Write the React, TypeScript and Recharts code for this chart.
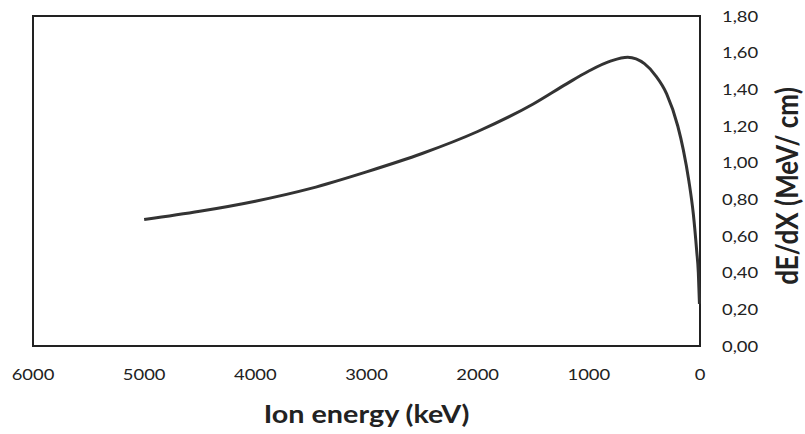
import { LineChart, Line, XAxis, YAxis, ReferenceArea, Label } from 'recharts'

// ion energy (keV) and stopping power dE/dX (MeV/cm)
const energy = [5000, 4500, 4000, 3500, 3000, 2500, 2000, 1500, 1200, 1000, 800, 650, 500, 400, 300, 200, 150, 100, 60, 30, 15, 5]
const dEdx = [0.69, 0.735, 0.79, 0.86, 0.95, 1.05, 1.17, 1.32, 1.43, 1.5, 1.555, 1.575, 1.54, 1.475, 1.375, 1.2, 1.07, 0.9, 0.72, 0.52, 0.4, 0.23]

const xTicks = [0, 1000, 2000, 3000, 4000, 5000, 6000]
const yTicks = [0, 0.2, 0.4, 0.6, 0.8, 1.0, 1.2, 1.4, 1.6, 1.8]

const xTitle = 'Ion energy (keV)'
const yTitle = 'dE/dX (MeV/ cm)'

const data = energy.map((e, i) => ({ energy: e, dEdx: dEdx[i] }))

const font = 'Lato, Carlito, Calibri, sans-serif'
const ink = '#222'
// the source image is a bit stretched sideways, so text gets a small x scale
const stretch = 1.15

const XTick = ({ x, y, payload }: any) => (
  <g transform={`translate(${x},${y}) scale(${stretch},1)`}>
    <text x={0} y={0} dy="0.71em" textAnchor="middle" style={{ fontSize: 16, fill: ink, fontFamily: font }}>
      {payload.value}
    </text>
  </g>
)

const YTick = ({ x, y, payload }: any) => (
  <g transform={`translate(${x},${y}) scale(${stretch},1)`}>
    <text x={0} y={0} dy="0.355em" textAnchor="start" style={{ fontSize: 16, fill: ink, fontFamily: font }}>
      {payload.value.toFixed(2).replace('.', ',')}
    </text>
  </g>
)

export default function App() {
  return (
    <div style={{ position: 'absolute', left: 0, top: 0, background: '#fff' }}>
      <LineChart width={805} height={434} data={data} margin={{ top: 16, right: 0, bottom: 0, left: 33 }}>
        <XAxis
          type="number"
          dataKey="energy"
          domain={[0, 6000]}
          ticks={xTicks}
          reversed
          height={88}
          axisLine={false}
          tickLine={false}
          tickSize={0}
          tickMargin={23}
          tick={<XTick />}
          interval={0}
        >
          <Label
            content={({ viewBox }: any) => (
              <g transform={`translate(${viewBox.x + viewBox.width / 2},${viewBox.y + 77}) scale(${stretch},1)`}>
                <text x={0} y={0} textAnchor="middle" style={{ fontSize: 25, fontWeight: 700, fill: ink, fontFamily: font }}>
                  {xTitle}
                </text>
              </g>
            )}
          />
        </XAxis>
        <YAxis
          type="number"
          orientation="right"
          domain={[0, 1.8]}
          ticks={yTicks}
          width={105}
          axisLine={false}
          tickLine={false}
          tickSize={0}
          tickMargin={22}
          tick={<YTick />}
          interval={0}
        >
          <Label
            content={({ viewBox }: any) => {
              const cx = viewBox.x + 86
              const cy = viewBox.y + viewBox.height / 2 + 5
              return (
                <g transform={`translate(${cx},${cy}) scale(${stretch},1) rotate(-90)`}>
                  <text x={0} y={0} textAnchor="middle" dominantBaseline="central"
                    style={{ fontSize: 26, fontWeight: 700, fill: ink, fontFamily: font }}>
                    {yTitle}
                  </text>
                </g>
              )
            }}
          />
        </YAxis>
        <ReferenceArea x1={0} x2={6000} y1={0} y2={1.8} fill="none" stroke={ink} strokeWidth={2} ifOverflow="visible" />
        <Line type="monotone" dataKey="dEdx" stroke="#333" strokeWidth={3} dot={false} isAnimationActive={false} />
      </LineChart>
    </div>
  )
}
